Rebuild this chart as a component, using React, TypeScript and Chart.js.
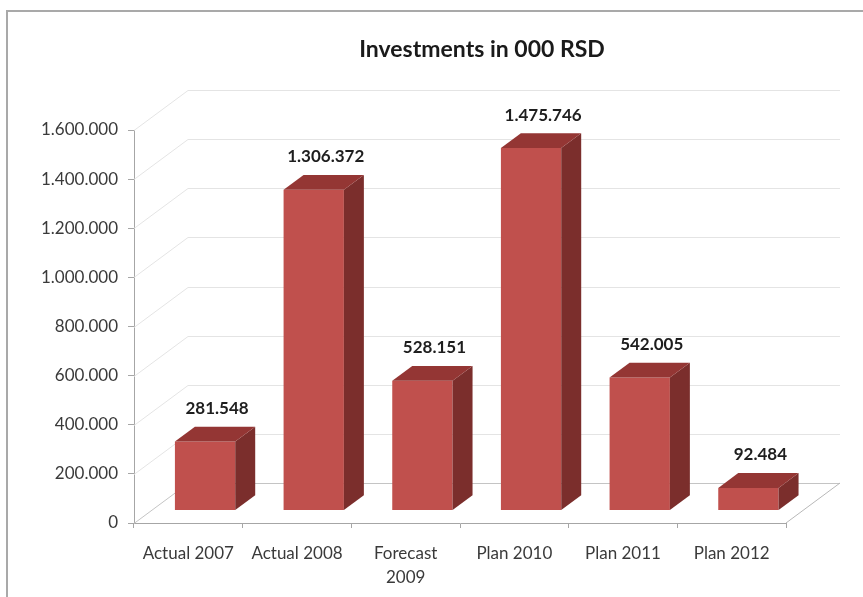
import { useEffect, useRef } from "react";
import { Chart, registerables } from "chart.js";

Chart.register(...registerables);

const categories: (string | string[])[] = [
  "Actual 2007",
  "Actual 2008",
  ["Forecast", "2009"],
  "Plan 2010",
  "Plan 2011",
  "Plan 2012",
];
const investments = [281548, 1306372, 528151, 1475746, 542005, 92484];
const yMin = 0;
const yMax = 1600000;
const yStep = 200000;
const chartTitle = "Investments in 000 RSD";

const fmt = (v: number) =>
  Math.round(v)
    .toString()
    .replace(/\B(?=(\d{3})+(?!\d))/g, ".");

const DEPTH_X = 54;
const DEPTH_Y = 40;
const BAR_FRONT = 0.31;
const BAR_DEPTH = 0.37;
const FRONT = "#C0504D";
const SIDE = "#7B2E2C";
const TOP = "#943634";
const FONT = "Lato, 'Open Sans', sans-serif";

const threeD = {
  id: "threeD",
  beforeDatasetsDraw(chart: any) {
    const { ctx, chartArea, scales } = chart;
    const y = scales.y;
    ctx.save();
    ctx.lineWidth = 1;
    y.ticks.forEach((t: any) => {
      const py = Math.round(y.getPixelForValue(t.value)) + 0.5;
      ctx.strokeStyle = t.value === 0 ? "#c4c4c4" : "#e4e4e4";
      ctx.beginPath();
      ctx.moveTo(chartArea.left, py);
      ctx.lineTo(chartArea.left + DEPTH_X, py - DEPTH_Y);
      ctx.lineTo(chartArea.right + DEPTH_X, py - DEPTH_Y);
      ctx.stroke();
    });
    ctx.strokeStyle = "#b8b8b8";
    ctx.beginPath();
    ctx.moveTo(chartArea.right, chartArea.bottom);
    ctx.lineTo(chartArea.right + DEPTH_X, chartArea.bottom - DEPTH_Y);
    ctx.stroke();
    ctx.restore();
    ctx.save();
    ctx.translate(DEPTH_X * BAR_FRONT, -DEPTH_Y * BAR_FRONT);
  },
  afterDatasetsDraw(chart: any) {
    const { ctx } = chart;
    const meta = chart.getDatasetMeta(0);
    const values = chart.data.datasets[0].data as number[];
    const dx = DEPTH_X * BAR_DEPTH;
    const dy = DEPTH_Y * BAR_DEPTH;
    meta.data.forEach((bar: any, i: number) => {
      const { x, y, base, width } = bar.getProps(["x", "y", "base", "width"], true);
      const x1 = x - width / 2;
      const x2 = x + width / 2;
      ctx.fillStyle = SIDE;
      ctx.beginPath();
      ctx.moveTo(x2, y);
      ctx.lineTo(x2 + dx, y - dy);
      ctx.lineTo(x2 + dx, base - dy);
      ctx.lineTo(x2, base);
      ctx.closePath();
      ctx.fill();
      ctx.fillStyle = TOP;
      ctx.beginPath();
      ctx.moveTo(x1, y);
      ctx.lineTo(x2, y);
      ctx.lineTo(x2 + dx, y - dy);
      ctx.lineTo(x1 + dx, y - dy);
      ctx.closePath();
      ctx.fill();
      ctx.fillStyle = "#1e1e1e";
      ctx.font = `bold 17px ${FONT}`;
      ctx.textAlign = "center";
      ctx.textBaseline = "middle";
      ctx.fillText(fmt(values[i]), x + 12, y - 33);
    });
    ctx.restore();
  },
  afterDraw(chart: any) {
    const { ctx } = chart;
    ctx.save();
    ctx.fillStyle = "#1a1a1a";
    ctx.font = `bold 23px ${FONT}`;
    ctx.textAlign = "center";
    ctx.textBaseline = "middle";
    ctx.fillText(chartTitle, 482, 50);
    ctx.restore();
  },
};

export default function App() {
  const ref = useRef<HTMLCanvasElement>(null);
  useEffect(() => {
    if (!ref.current) return;
    const chart = new Chart(ref.current, {
      type: "bar",
      data: {
        labels: categories as any,
        datasets: [
          {
            data: investments,
            backgroundColor: FRONT,
            borderWidth: 0,
            barPercentage: 0.555,
            categoryPercentage: 1,
          },
        ],
      },
      options: {
        animation: false,
        responsive: false,
        devicePixelRatio: 1,
        layout: { padding: { top: 130, right: 77, left: 0, bottom: 0 } },
        plugins: {
          legend: { display: false },
          title: { display: false },
          tooltip: { enabled: false },
        },
        scales: {
          x: {
            afterFit: (s: any) => {
              s.height = 74;
            },
            grid: {
              drawOnChartArea: false,
              drawTicks: true,
              tickLength: 5,
              color: "#a6a6a6",
              offset: true,
            },
            border: { color: "#a6a6a6", width: 1 },
            ticks: {
              padding: 14,
              color: "#3a3a3a",
              font: { family: FONT, size: 17, lineHeight: 1.4 },
              maxRotation: 0,
              autoSkip: false,
            },
          },
          y: {
            min: yMin,
            max: yMax,
            afterFit: (s: any) => {
              s.width = 134;
            },
            grid: {
              drawOnChartArea: false,
              drawTicks: true,
              tickLength: 6,
              color: "#a6a6a6",
            },
            border: { color: "#a6a6a6", width: 1 },
            ticks: {
              stepSize: yStep,
              padding: 10,
              color: "#3a3a3a",
              font: { family: FONT, size: 17 },
              callback: (v: any) => fmt(Number(v)),
            },
          },
        },
      },
      plugins: [threeD],
    });
    return () => chart.destroy();
  }, []);

  return (
    <div
      style={{
        position: "fixed",
        left: 0,
        top: 0,
        width: 863,
        height: 597,
        background: "#fff",
        overflow: "hidden",
      }}
    >
      <canvas ref={ref} width={863} height={597} style={{ width: 863, height: 597, display: "block" }} />
      <div
        style={{
          position: "absolute",
          left: 6,
          top: 10,
          width: 900,
          height: 700,
          borderLeft: "2px solid #a9a9a9",
          borderTop: "2px solid #a9a9a9",
          pointerEvents: "none",
        }}
      />
    </div>
  );
}
